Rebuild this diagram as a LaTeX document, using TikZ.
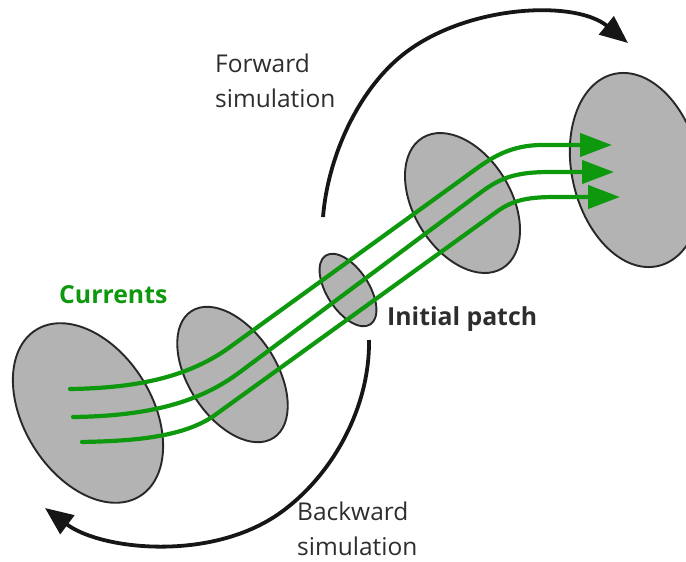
\documentclass[tikz,border=0pt]{standalone}
\usepackage{fontspec}
\setmainfont{Open Sans}
\usetikzlibrary{arrows.meta}
\definecolor{patchfill}{RGB}{179,179,179}
\definecolor{patchedge}{RGB}{40,40,40}
\definecolor{currentgreen}{RGB}{14,152,14}
\definecolor{labelgray}{RGB}{45,45,45}
\definecolor{arcblack}{RGB}{22,22,22}
\begin{document}
\begin{tikzpicture}[x=1pt,y=-1pt,
  patch/.style={fill=patchfill, draw=patchedge, line width=1.9pt},
  current/.style={draw=currentgreen, line width=4.2pt, line cap=round,
    -{Triangle[length=32pt,width=23pt]}},
  flow/.style={draw=arcblack, line width=3.8pt,
    -{Triangle[length=28pt,width=23pt]}},
  lbl/.style={font=\fontsize{24.5}{35}\selectfont, text=labelgray,
    align=left, inner sep=0pt},
  boldlbl/.style={font=\fontsize{24.8}{30}\selectfont\bfseries, inner sep=0pt}]
\useasboundingbox (0,0) rectangle (686,562);
\clip (0,0) rectangle (686,562);

% cross-sections of the flux tube
\draw[patch, rotate around={32:(88,413)}] (88,413) ellipse [x radius=64pt, y radius=98pt];
\draw[patch, rotate around={33:(232.5,374.5)}] (232.5,374.5) ellipse [x radius=44pt, y radius=75.5pt];
\draw[patch, rotate around={33:(348,290)}] (348,290) ellipse [x radius=21pt, y radius=41pt];
\draw[patch, rotate around={31.5:(462.5,203)}] (462.5,203) ellipse [x radius=48.5pt, y radius=76.5pt];
\draw[patch, rotate around={13:(636,170)}] (636,170) ellipse [x radius=64pt, y radius=98.5pt];

% end points of the current lines
\coordinate (c1s) at (70,389);  \coordinate (c1e) at (612,145);
\coordinate (c2s) at (73,417);  \coordinate (c2e) at (614,172);
\coordinate (c3s) at (82,442);  \coordinate (c3e) at (620,197);

% currents
\draw[current] (c1s) .. controls (140,388) and (190,376) .. (230,347)
  -- (465,177) .. controls (487,161) and (505,146) .. (540,145) -- (c1e);
\draw[current] (c2s) .. controls (150,416) and (200,402) .. (240,372)
  -- (480,193) .. controls (500,178) and (515,172) .. (550,172) -- (c2e);
\draw[current] (c3s) .. controls (130,441) and (183,438) .. (215,415)
  -- (495,213) .. controls (511,201) and (525,197) .. (555,197) -- (c3e);

% simulation directions
\coordinate (fwdstart) at (323,217);
\coordinate (fwdend) at (628,43);
\coordinate (bwdstart) at (369,340);
\coordinate (bwdend) at (45,508);
\draw[flow] (fwdstart) .. controls (328,156) and (358,92) .. (400,57)
  .. controls (462,5) and (574,-1) .. (fwdend);
\draw[flow] (bwdstart) .. controls (370,408) and (332,476) .. (280,513)
  .. controls (211,562) and (101,550) .. (bwdend);

% labels (base anchor sits on the last line)
\node[lbl, anchor=base west] (fwdlabel) at (215,107) {Forward\\simulation};
\node[lbl, anchor=base west] (bwdlabel) at (297,555) {Backward\\simulation};
\node[boldlbl, text=currentgreen, anchor=base west] (currents) at (59,303) {Currents};
\node[boldlbl, text=labelgray, anchor=base west] (initial) at (387,325) {Initial patch};
\end{tikzpicture}
\end{document}
